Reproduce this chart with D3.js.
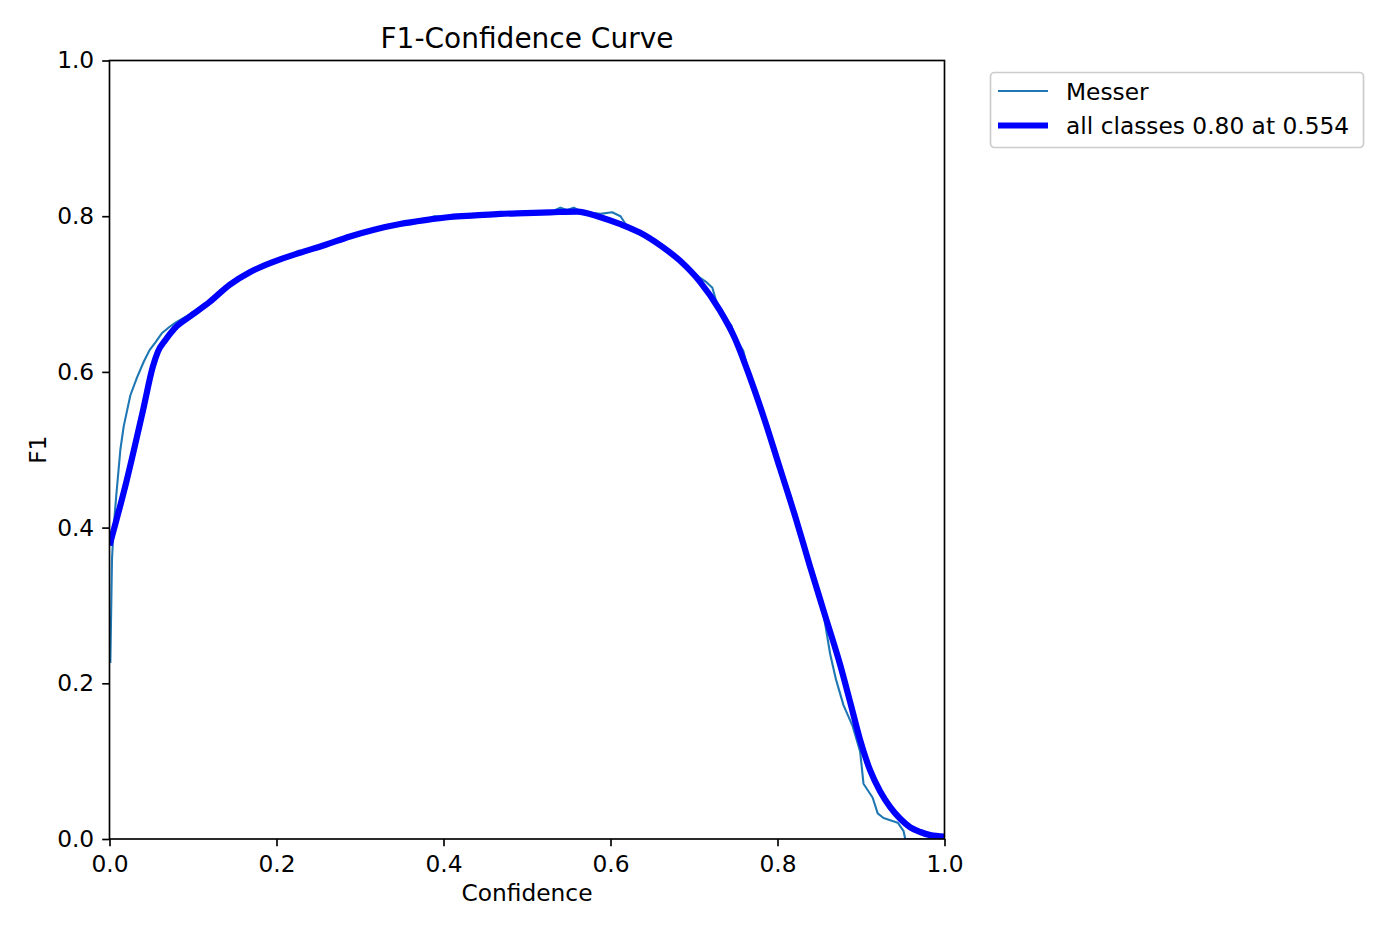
<!DOCTYPE html>
<html>
<head>
<meta charset="utf-8">
<script src="https://cdn.jsdelivr.net/npm/d3@7"></script>
<style>
  body { margin: 0; background: #fff; }
  svg { display: block; font-family: "DejaVu Sans", sans-serif; }
</style>
</head>
<body>
<svg id="chart" width="1400" height="933"></svg>
<script>
// --- データ ---
const xTicks = [0.0, 0.2, 0.4, 0.6, 0.8, 1.0];
const yTicks = [0.0, 0.2, 0.4, 0.6, 0.8, 1.0];

// all classes (太線)
const allConf = [0.0, 0.020, 0.040, 0.052, 0.058, 0.067, 0.078, 0.096, 0.120, 0.144, 0.168, 0.198, 0.228, 0.258, 0.288, 0.318, 0.348, 0.378, 0.408, 0.438, 0.468, 0.498, 0.528, 0.560, 0.587, 0.611, 0.635, 0.659, 0.683, 0.707, 0.731, 0.749, 0.767, 0.785, 0.803, 0.821, 0.839, 0.857, 0.875, 0.887, 0.899, 0.911, 0.923, 0.935, 0.947, 0.959, 0.971, 0.983, 1.0];
const allF1 = [0.377, 0.458, 0.550, 0.607, 0.626, 0.641, 0.656, 0.671, 0.690, 0.712, 0.728, 0.742, 0.753, 0.763, 0.774, 0.783, 0.790, 0.795, 0.799, 0.801, 0.803, 0.804, 0.805, 0.806, 0.799, 0.790, 0.779, 0.763, 0.743, 0.716, 0.679, 0.643, 0.593, 0.537, 0.476, 0.415, 0.350, 0.287, 0.224, 0.176, 0.127, 0.088, 0.061, 0.041, 0.026, 0.015, 0.009, 0.005, 0.003];

// Messer (細線)
const messerConf = [0.001, 0.003, 0.005, 0.008, 0.013, 0.017, 0.025, 0.033, 0.041, 0.048, 0.055, 0.063, 0.072, 0.080, 0.096, 0.120, 0.144, 0.168, 0.198, 0.205, 0.228, 0.250, 0.258, 0.288, 0.318, 0.348, 0.378, 0.389, 0.397, 0.405, 0.438, 0.468, 0.498, 0.528, 0.540, 0.548, 0.556, 0.565, 0.588, 0.602, 0.612, 0.618, 0.635, 0.659, 0.683, 0.700, 0.707, 0.714, 0.722, 0.726, 0.731, 0.740, 0.745, 0.749, 0.759, 0.767, 0.785, 0.803, 0.816, 0.822, 0.839, 0.855, 0.863, 0.870, 0.879, 0.890, 0.899, 0.903, 0.914, 0.920, 0.927, 0.944, 0.951, 0.953, 1.0];
const messerF1 = [0.226, 0.360, 0.400, 0.440, 0.500, 0.530, 0.570, 0.593, 0.613, 0.628, 0.638, 0.650, 0.658, 0.664, 0.674, 0.692, 0.712, 0.728, 0.744, 0.745, 0.753, 0.760, 0.762, 0.774, 0.783, 0.790, 0.796, 0.800, 0.800, 0.797, 0.801, 0.803, 0.804, 0.805, 0.811, 0.808, 0.811, 0.806, 0.803, 0.805, 0.800, 0.790, 0.780, 0.764, 0.744, 0.728, 0.721, 0.716, 0.708, 0.693, 0.681, 0.666, 0.659, 0.645, 0.627, 0.594, 0.540, 0.478, 0.440, 0.416, 0.350, 0.290, 0.238, 0.205, 0.172, 0.145, 0.112, 0.071, 0.053, 0.033, 0.027, 0.021, 0.010, 0.000, 0.000];

const legendLabels = ["Messer", "all classes 0.80 at 0.554"];

// --- レイアウト ---
const svg = d3.select("#chart");
const plot = { left: 109.5, top: 60.5, right: 944.5, bottom: 839 };
const fontSize = 23.3;

const x = d3.scaleLinear().domain([0, 1]).range([plot.left, plot.right]);
const y = d3.scaleLinear().domain([0, 1]).range([plot.bottom, plot.top]);

// クリップ
svg.append("defs").append("clipPath").attr("id", "clip")
  .append("rect")
  .attr("x", plot.left).attr("y", plot.top)
  .attr("width", plot.right - plot.left).attr("height", plot.bottom - plot.top);

const g = svg.append("g").attr("clip-path", "url(#clip)");
g.append("path")
  .datum(d3.zip(messerConf, messerF1))
  .attr("d", d3.line().x(d => x(d[0])).y(d => y(d[1])))
  .attr("fill", "none")
  .attr("stroke", "#1f77b4")
  .attr("stroke-width", 2.1)
  .attr("stroke-linejoin", "round");

g.append("path")
  .datum(d3.zip(allConf, allF1))
  .attr("d", d3.line().curve(d3.curveMonotoneX).x(d => x(d[0])).y(d => y(d[1])))
  .attr("fill", "none")
  .attr("stroke", "#0000ff")
  .attr("stroke-width", 6.2)
  .attr("stroke-linejoin", "round");

// 軸
const xAxis = svg.append("g")
  .attr("transform", `translate(0,${plot.bottom})`)
  .call(d3.axisBottom(x).tickValues(xTicks).tickFormat(d3.format(".1f")).tickSize(7.3).tickPadding(9));
const yAxis = svg.append("g")
  .attr("transform", `translate(${plot.left},0)`)
  .call(d3.axisLeft(y).tickValues(yTicks).tickFormat(d3.format(".1f")).tickSize(7.3).tickPadding(8));

[xAxis, yAxis].forEach(a => {
  a.select(".domain").remove();
  a.selectAll(".tick line").attr("stroke", "#000").attr("stroke-width", 1.67);
  a.selectAll(".tick text")
    .attr("fill", "#000")
    .style("font-size", fontSize + "px")
    .style("font-family", "DejaVu Sans");
});

// 枠線
svg.append("rect")
  .attr("x", plot.left).attr("y", plot.top)
  .attr("width", plot.right - plot.left).attr("height", plot.bottom - plot.top)
  .attr("fill", "none").attr("stroke", "#000").attr("stroke-width", 1.67);

// タイトルとラベル
svg.append("text")
  .attr("x", (plot.left + plot.right) / 2).attr("y", 48)
  .attr("text-anchor", "middle")
  .style("font-size", "28px")
  .text("F1-Confidence Curve");

svg.append("text")
  .attr("x", (plot.left + plot.right) / 2).attr("y", 901)
  .attr("text-anchor", "middle")
  .style("font-size", fontSize + "px")
  .text("Confidence");

svg.append("text")
  .attr("transform", `translate(46,${(plot.top + plot.bottom) / 2}) rotate(-90)`)
  .attr("text-anchor", "middle")
  .style("font-size", fontSize + "px")
  .text("F1");

// 凡例
const legend = svg.append("g");
legend.append("rect")
  .attr("x", 990.5).attr("y", 72.5)
  .attr("width", 373).attr("height", 75)
  .attr("rx", 4)
  .attr("fill", "#fff")
  .attr("stroke", "#cccccc")
  .attr("stroke-width", 1.67);

const legendStyles = [
  { color: "#1f77b4", width: 2.1 },
  { color: "#0000ff", width: 6.2 }
];
legendLabels.forEach((label, i) => {
  const ly = 91 + i * 34.5;
  legend.append("line")
    .attr("x1", 998).attr("x2", 1048)
    .attr("y1", ly).attr("y2", ly)
    .attr("stroke", legendStyles[i].color)
    .attr("stroke-width", legendStyles[i].width);
  legend.append("text")
    .attr("x", 1066).attr("y", ly + 8.5)
    .style("font-size", fontSize + "px")
    .text(label);
});
</script>
</body>
</html>
